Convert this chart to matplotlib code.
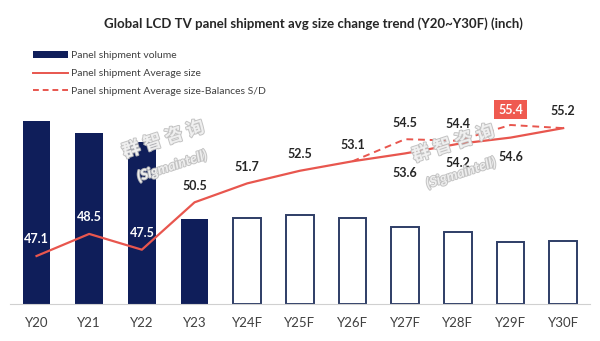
import matplotlib
matplotlib.use("Agg")
import matplotlib.pyplot as plt
import matplotlib.patheffects as pe
from matplotlib.patches import Patch
from matplotlib.lines import Line2D
import numpy as np

plt.rcParams['font.family'] = ['Lato', 'Noto Sans CJK SC', 'DejaVu Sans']

# data
years = ["Y20", "Y21", "Y22", "Y23", "Y24F", "Y25F", "Y26F", "Y27F", "Y28F", "Y29F", "Y30F"]
volume = [183, 171, 162, 85, 86, 89, 86, 77, 72, 62, 63]       # relative bar heights
avg_size = [47.1, 48.5, 47.5, 50.5, 51.7, 52.5, 53.1, 53.6, 54.2, 54.6, 55.2]
balanced_idx = [6, 7, 8, 9, 10]
balanced_size = [53.1, 54.5, 54.4, 55.4, 55.2]
n_actual = 4   # Y20..Y23 are filled bars

navy = "#0F1E5A"
edge = "#2E3D66"
red = "#E8564E"
txt = "#404040"

fig = plt.figure(figsize=(6, 3.41), dpi=100)
ax = fig.add_axes([0.017, 0.1085, 0.9655, 0.5685])
ax2 = ax.twinx()

x = np.arange(len(years))
for i, v in enumerate(volume):
    if i < n_actual:
        ax.bar(x[i], v, width=0.53, color=navy, zorder=2)
    else:
        ax.bar(x[i], v, width=0.53, facecolor="white", edgecolor=edge, linewidth=1.4, zorder=2)

ax.set_xlim(-0.5, len(years) - 0.5)
ax.set_ylim(0, 194)
ax.set_xticks(x)
ax.set_xticklabels(years, fontsize=9.5, color=txt)
ax.tick_params(axis="x", length=0, pad=9)
ax.set_yticks([])
for s in ["top", "left", "right"]:
    ax.spines[s].set_visible(False)
    ax2.spines[s].set_visible(False)
ax.spines["bottom"].set_color("#D0D0D0")
ax2.spines["bottom"].set_visible(False)

ax2.set_ylim(44.06, 56.34)
ax2.set_yticks([])
ax2.plot(balanced_idx, balanced_size, color=red, linestyle=(0, (3.5, 2.5)), linewidth=1.4, zorder=3)
ax2.plot(x, avg_size, color=red, linewidth=1.6, zorder=4)

# labels of the average size line
for i, v in enumerate(avg_size):
    below = i in (7, 8, 9)
    col = "white" if i < 3 else "#262626"
    ax2.annotate(f"{v:.1f}", (x[i], v), xytext=(0, -14 if below else 12), textcoords="offset points",
                 ha="center", va="center", fontsize=9, fontweight="bold", color=col, zorder=6)

# labels of the balanced line (first and last points share the solid line)
for i, v in zip(balanced_idx[1:-1], balanced_size[1:-1]):
    if i == 9:
        ax2.annotate(f"{v:.1f}", (x[i], v), xytext=(0, 11), textcoords="offset points",
                     ha="center", va="center", fontsize=9, fontweight="bold", color="white",
                     bbox=dict(boxstyle="square,pad=0.3", fc="#EF5A50", ec="none"), zorder=6)
    else:
        ax2.annotate(f"{v:.1f}", (x[i], v), xytext=(0, 12), textcoords="offset points",
                     ha="center", va="center", fontsize=9, fontweight="bold", color="#262626", zorder=6)

# watermark
wm = [pe.withStroke(linewidth=1.4, foreground="#BDBDBD")]
for cx, cy, sx, sy in [(163, 139, 172, 166), (453, 143, 461, 173)]:
    fig.text(cx / 600, 1 - cy / 341, "群 智 咨 询", fontsize=13, fontweight="bold", color="#F4F4F4",
             rotation=18, ha="center", va="center", path_effects=wm, zorder=7, alpha=0.9)
    fig.text(sx / 600, 1 - sy / 341, "(Sigmaintell)", fontsize=10, fontweight="bold", style="italic",
             color="#F4F4F4", rotation=18, ha="center", va="center", path_effects=wm, zorder=7, alpha=0.9)

fig.text(313 / 600, 1 - 24 / 341, "Global LCD TV panel shipment avg size change trend (Y20~Y30F) (inch)",
         ha="center", va="center", fontsize=9.5, fontweight="bold", color="#262626")

handles = [Patch(facecolor=navy, edgecolor="none"),
           Line2D([], [], color=red, linewidth=1.4),
           Line2D([], [], color=red, linewidth=1.4, linestyle=(0, (3, 2)))]
labels = ["Panel shipment volume", "Panel shipment Average size",
          "Panel shipment Average size-Balances S/D"]
fig.legend(handles, labels, loc="upper left", bbox_to_anchor=(0.055, 0.85), frameon=False,
           fontsize=7.5, handlelength=3.4, handleheight=0.6, handletextpad=0.25,
           labelspacing=0.85, labelcolor=txt, borderaxespad=0, borderpad=0)

fig.savefig("out.png", dpi=100)
